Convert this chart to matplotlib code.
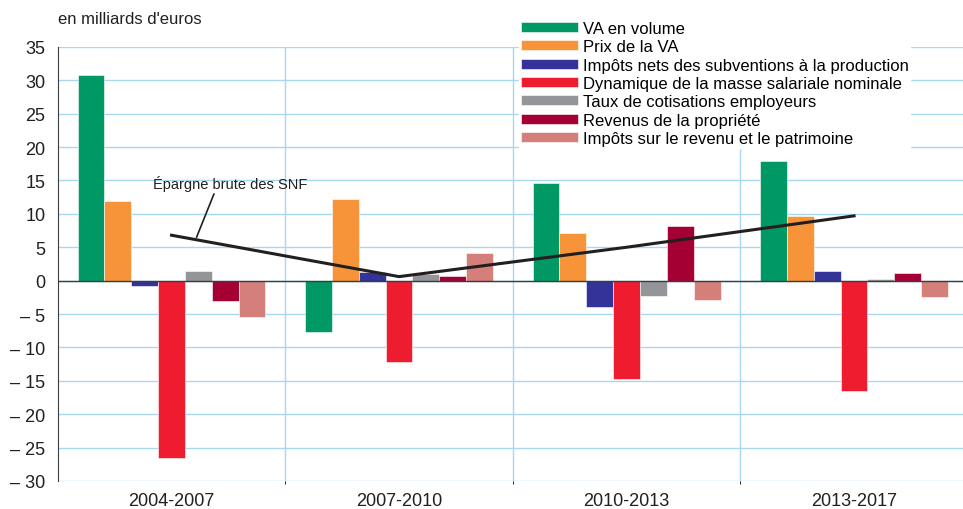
import numpy as np
import matplotlib.pyplot as plt

plt.rcParams['font.family'] = ['Liberation Sans Narrow', 'Liberation Sans', 'DejaVu Sans']

periods = ["2004-2007", "2007-2010", "2010-2013", "2013-2017"]
series_names = [
    "VA en volume",
    "Prix de la VA",
    "Impôts nets des subventions à la production",
    "Dynamique de la masse salariale nominale",
    "Taux de cotisations employeurs",
    "Revenus de la propriété",
    "Impôts sur le revenu et le patrimoine",
]
va_volume = [30.8, -7.7, 14.6, 17.9]
prix_va = [11.9, 12.2, 7.2, 9.7]
impots_prod = [-0.8, 1.3, -3.9, 1.4]
masse_sal = [-26.6, -12.2, -14.7, -16.6]
cotisations = [1.5, 1.0, -2.3, 0.3]
revenus_prop = [-3.1, 0.7, 8.2, 1.1]
impots_rev = [-5.5, 4.2, -2.9, -2.4]
epargne = [6.8, 0.6, 5.0, 9.7]

colors = ["#009966", "#f7943a", "#333399", "#ed1c2e", "#939598", "#a50034", "#d47f7a"]
values = [va_volume, prix_va, impots_prod, masse_sal, cotisations, revenus_prop, impots_rev]

fig = plt.figure(figsize=(9.63, 5.10), dpi=100)
ax = fig.add_axes([0.060, 0.055, 0.945, 0.851])

x = np.arange(len(periods))
w = 0.118
for i, (vals, c, name) in enumerate(zip(values, colors, series_names)):
    ax.bar(x + (i - 3) * w, vals, w, color=c, label=name, zorder=3,
           edgecolor="white", linewidth=0.4)

ax.plot(x, epargne, color="#231f20", lw=2.2, zorder=4)
ax.annotate("Épargne brute des SNF", xy=(0.11, 6.5), xytext=(-0.08, 14.6),
            fontsize=10.5, color="#231f20", ha="left", va="center",
            arrowprops=dict(arrowstyle="-", color="#231f20", lw=1.2,
                            shrinkA=0, shrinkB=0, relpos=(0.4, 0.0)))

ax.set_xlim(-0.5, 3.5)
ax.set_ylim(-30, 35)
ax.set_yticks(range(-30, 36, 5))
ax.set_yticklabels([str(v) if v >= 0 else "– " + str(-v) for v in range(-30, 36, 5)])
ax.set_xticks(x)
ax.set_xticklabels(periods)
ax.set_xticks([0.5, 1.5, 2.5], minor=True)

ax.grid(axis="y", color="#a8d8f0", lw=1, zorder=0)
ax.grid(axis="x", which="minor", color="#a8d8f0", lw=1, zorder=0)
ax.axhline(0, color="#3c3c3c", lw=1, zorder=3.5)
ax.tick_params(axis="both", length=0, labelsize=13, colors="#231f20", pad=8)
ax.tick_params(axis="y", pad=9)
for side in ["top", "right", "bottom"]:
    ax.spines[side].set_visible(False)
ax.spines["left"].set_color("#3c3c3c")

fig.text(0.060, 0.962, "en milliards d'euros", fontsize=12, color="#231f20",
         ha="left", va="center")

leg = ax.legend(loc="upper left", bbox_to_anchor=(0.498, 1.083), frameon=True,
                fontsize=12, handlelength=3.4, handleheight=0.55,
                labelspacing=0.2, borderpad=0.1, handletextpad=0.3,
                fancybox=False)
leg.get_frame().set_facecolor("white")
leg.get_frame().set_edgecolor("white")
leg.get_frame().set_alpha(1)
leg.set_zorder(5)

fig.savefig("out.png", dpi=100)
